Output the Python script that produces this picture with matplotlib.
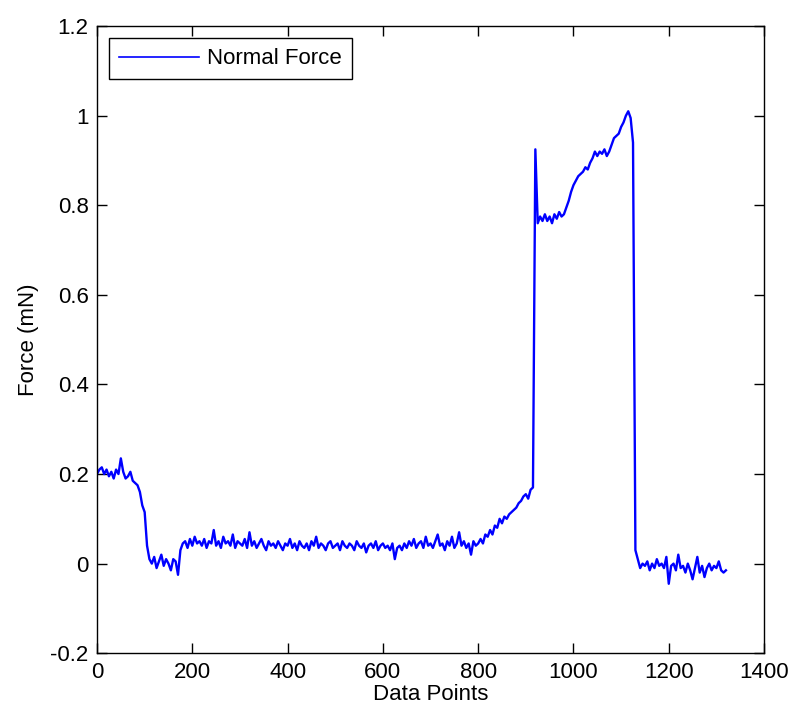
import numpy as np
import matplotlib
matplotlib.use('Agg')
import matplotlib.pyplot as plt

# force readings, one every 5 data points, split by phase
start_level = [0.20, 0.21, 0.215, 0.20, 0.21, 0.195, 0.205, 0.19, 0.21, 0.20,
               0.235, 0.205, 0.19, 0.195, 0.205, 0.185, 0.18, 0.175, 0.16, 0.13,
               0.115]
first_dip = [0.04, 0.01, 0.0, 0.015, -0.01, 0.005, 0.02, -0.005, 0.01, 0.0,
             -0.015, 0.01, 0.005, -0.025]
low_plateau = [0.03, 0.045, 0.05, 0.035, 0.055, 0.04, 0.06, 0.045, 0.05, 0.04,
               0.055, 0.035, 0.05, 0.045, 0.075, 0.04, 0.05, 0.035, 0.06, 0.045,
               0.05, 0.04, 0.065, 0.035, 0.05, 0.045, 0.04, 0.055, 0.035, 0.07,
               0.04, 0.05, 0.035, 0.045, 0.055, 0.04, 0.03, 0.05, 0.04, 0.045,
               0.035, 0.05, 0.04, 0.03, 0.045, 0.04, 0.055, 0.035, 0.045, 0.03,
               0.05, 0.04, 0.035, 0.045, 0.03, 0.05, 0.04, 0.06, 0.035, 0.045,
               0.04, 0.03, 0.045, 0.05, 0.035, 0.04, 0.045, 0.03, 0.05, 0.04,
               0.035, 0.045, 0.04, 0.03, 0.05, 0.04, 0.035, 0.045, 0.025, 0.04,
               0.045, 0.035, 0.05, 0.03, 0.04, 0.045, 0.035, 0.04, 0.03, 0.045,
               0.01, 0.035, 0.04, 0.03, 0.045, 0.035, 0.05, 0.04, 0.055, 0.035,
               0.045, 0.05, 0.035, 0.06, 0.04, 0.045, 0.035, 0.05, 0.065, 0.04,
               0.045, 0.03, 0.05, 0.04, 0.06, 0.035, 0.045, 0.07, 0.04, 0.05,
               0.035, 0.045, 0.02, 0.05, 0.04, 0.045]
ramp = [0.055, 0.045, 0.065, 0.06, 0.075, 0.065, 0.085, 0.08, 0.10, 0.09,
        0.105, 0.10, 0.11, 0.115, 0.12, 0.125, 0.135, 0.14, 0.15, 0.155,
        0.145, 0.165, 0.17]
contact = [0.925, 0.76, 0.775, 0.765, 0.78, 0.765, 0.775, 0.76, 0.78, 0.77,
           0.785, 0.775, 0.78, 0.795, 0.81, 0.83, 0.845, 0.855, 0.865, 0.87,
           0.875, 0.885, 0.88, 0.895, 0.905, 0.92, 0.91, 0.92, 0.915, 0.925,
           0.91, 0.92, 0.935, 0.95, 0.955, 0.96, 0.975, 0.985, 1.0, 1.01,
           0.995, 0.94]
release = [0.03, 0.01, -0.01, 0.0, -0.005, 0.005, -0.015, 0.0, -0.01, 0.01,
           -0.005, 0.0, -0.01, 0.015, -0.045, -0.005, 0.0, -0.015, 0.02, -0.01,
           -0.005, -0.02, 0.0, -0.015, -0.035, -0.01, 0.015, -0.02, -0.005, -0.03,
           -0.01, 0.0, -0.015, -0.005, -0.01, 0.005, -0.015, -0.02, -0.015]

force = start_level + first_dip + low_plateau + ramp + contact + release
points = np.arange(len(force)) * 5

plt.rcParams['font.family'] = ['Liberation Sans', 'DejaVu Sans']

fig = plt.figure(figsize=(7.92, 7.17), dpi=100)
ax = fig.add_axes([0.1225, 0.089, 0.8422, 0.8745])
ax.plot(points, force, color='#0000ff', linewidth=1.7, label='Normal Force')

ax.set_xlim(0, 1400)
ax.set_ylim(-0.2, 1.2)
ax.set_xticks(np.arange(0, 1401, 200))
ax.set_yticks(np.arange(-0.2, 1.21, 0.2))
ax.set_yticklabels(['-0.2', '0', '0.2', '0.4', '0.6', '0.8', '1', '1.2'])
ax.tick_params(direction='in', top=True, right=True, length=7, width=1,
               labelsize=16)
ax.tick_params(axis='x', pad=6)
ax.tick_params(axis='y', pad=6)
for s in ax.spines.values():
    s.set_linewidth(1)

ax.set_xlabel('Data Points', fontsize=16, labelpad=1)
ax.set_ylabel('Force (mN)', fontsize=16, labelpad=8)

leg = ax.legend(loc='upper left', fontsize=16, fancybox=False, framealpha=1,
                edgecolor='black', handlelength=3.6, handletextpad=0.35,
                borderaxespad=0.55, borderpad=0.45)
leg.get_frame().set_linewidth(1)
leg.get_lines()[0].set_linewidth(1.2)

fig.savefig('out.png', dpi=100)
